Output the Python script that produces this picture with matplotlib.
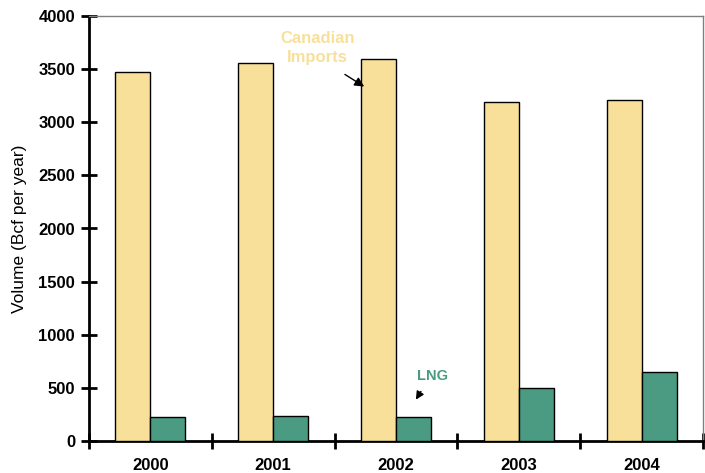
import matplotlib
matplotlib.use("Agg")
import matplotlib.pyplot as plt
import numpy as np

years = ["2000", "2001", "2002", "2003", "2004"]
canadian = [3470, 3560, 3595, 3195, 3210]
lng = [225, 235, 225, 500, 650]

plt.rcParams['font.family'] = ['Liberation Sans', 'DejaVu Sans']

fig = plt.figure(figsize=(7.05, 4.73), dpi=100)
ax = fig.add_axes([89/705, 1 - 441/473, (703 - 89)/705, (441 - 16)/473])

x = np.arange(len(years))
w = 0.285
ax.bar(x - w/2, canadian, width=w, color="#F8E09A", edgecolor="black", linewidth=1.0, zorder=3)
ax.bar(x + w/2, lng, width=w, color="#4A9B82", edgecolor="black", linewidth=1.0, zorder=3)

ax.set_xlim(-0.5, len(years) - 0.5)
ax.set_ylim(0, 4000)
ax.set_yticks(np.arange(0, 4001, 500))
ax.set_xticks(x)
ax.set_xticklabels(years, fontsize=12, fontweight="bold")
ax.tick_params(axis='x', length=0, pad=12)
for lab in ax.get_yticklabels():
    lab.set_fontweight("bold")
ax.tick_params(axis='y', direction='inout', length=12, width=2, labelsize=12, pad=4)

# category separator ticks on x axis
ax.set_xticks(np.arange(-0.5, len(years)), minor=True)
ax.tick_params(axis='x', which='minor', direction='inout', length=12, width=2)

ax.spines['left'].set_linewidth(2)
ax.spines['bottom'].set_linewidth(2)
ax.spines['top'].set_color("#808080")
ax.spines['right'].set_color("#808080")
ax.spines['top'].set_linewidth(1)
ax.spines['right'].set_linewidth(1)

ax.set_ylabel("Volume (Bcf per year)", fontsize=12.5, labelpad=8)

ax.annotate("", xy=(1.76, 3322), xytext=(1.565, 3464),
            arrowprops=dict(arrowstyle="-|>", color="black", lw=1, mutation_scale=14), zorder=5)
ax.text(1.36, 3700, "Canadian\nImports", ha="center", va="center", fontsize=12,
        fontweight="bold", color="#F8E09A", linespacing=1.3)

ax.text(2.297, 612, "LNG", ha="center", va="center", fontsize=10.5,
        fontweight="bold", color="#4A9B82")
ax.annotate("", xy=(2.15, 367), xytext=(2.215, 489),
            arrowprops=dict(arrowstyle="-|>", color="black", lw=1, mutation_scale=12), zorder=5)

fig.savefig("out.png", dpi=100)
